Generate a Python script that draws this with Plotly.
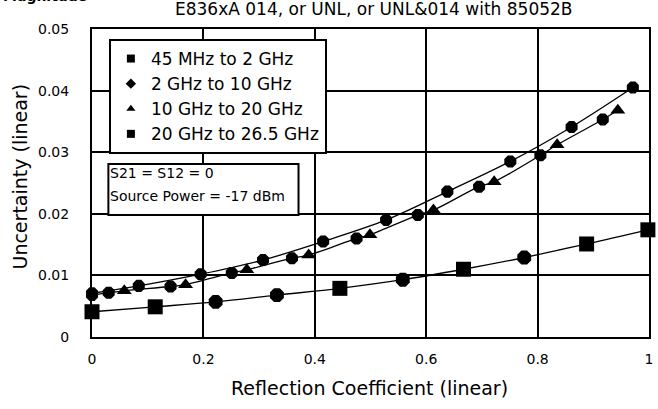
import plotly.graph_objects as go

# ---- data ----
s1_name = "45 MHz to 2 GHz"
s1_x = [0.0, 0.1135, 0.222, 0.332, 0.445, 0.558, 0.667, 0.776, 0.888, 0.998]
s1_y = [0.0041, 0.0049, 0.0057, 0.0068, 0.0079, 0.0093, 0.0110, 0.0129, 0.0151, 0.0174]

s2_name = "2 GHz to 10 GHz"
s2_x = [0.0, 0.084, 0.195, 0.307, 0.415, 0.528, 0.638, 0.751, 0.861, 0.971]
s2_y = [0.0071, 0.0083, 0.0102, 0.0125, 0.0155, 0.0190, 0.0236, 0.0285, 0.0341, 0.0405]

s3_name = "10 GHz to 20 GHz"
s3_x = [0.058, 0.168, 0.278, 0.389, 0.499, 0.613, 0.722, 0.835, 0.944]
s3_y = [0.0075, 0.0085, 0.0109, 0.0133, 0.0166, 0.0206, 0.0252, 0.0312, 0.0368]

s4_name = "20 GHz to 26.5 GHz"
s4_x = [0.0, 0.03, 0.141, 0.251, 0.359, 0.475, 0.585, 0.695, 0.805, 0.917]
s4_y = [0.0068, 0.0072, 0.0082, 0.0104, 0.0128, 0.0160, 0.0198, 0.0244, 0.0295, 0.0353]

x_ticks = [0, 0.2, 0.4, 0.6, 0.8, 1]
x_tick_labels = ["0", "0.2", "0.4", "0.6", "0.8", "1"]
y_ticks = [0, 0.01, 0.02, 0.03, 0.04, 0.05]
y_tick_labels = ["0", "0.01", "0.02", "0.03", "0.04", "0.05"]

title_text = "E836xA 014, or UNL, or UNL&014 with 85052B"
corner_text = "Magnitude"
x_title = "Reflection Coefficient (linear)"
y_title = "Uncertainty (linear)"
note_lines = ["S21 = S12 = 0", "Source Power = -17 dBm"]

# ---- styles ----
FONT = "DejaVu Sans"
BLACK = "#000000"
s1_symbols = ["square", "square", "octagon", "octagon", "square",
              "octagon", "square", "octagon", "square", "square"]

fig = go.Figure()

# lines
fig.add_trace(go.Scatter(x=s1_x, y=s1_y, mode="lines", showlegend=False,
                         line=dict(color=BLACK, width=1.3, shape="spline"),
                         hoverinfo="skip", cliponaxis=False))
fig.add_trace(go.Scatter(x=s2_x, y=s2_y, mode="lines", showlegend=False,
                         line=dict(color=BLACK, width=1.3, shape="spline"),
                         hoverinfo="skip", cliponaxis=False))
pairs = sorted(zip(s3_x + s4_x, s3_y + s4_y))
fig.add_trace(go.Scatter(x=[p[0] for p in pairs], y=[p[1] for p in pairs],
                         mode="lines", showlegend=False,
                         line=dict(color=BLACK, width=1.3, shape="spline"),
                         hoverinfo="skip", cliponaxis=False))

# markers
fig.add_trace(go.Scatter(x=s1_x, y=s1_y, mode="markers", showlegend=False,
                         marker=dict(symbol=s1_symbols, size=15, color=BLACK),
                         cliponaxis=False))
fig.add_trace(go.Scatter(x=s4_x, y=s4_y, mode="markers", showlegend=False,
                         marker=dict(symbol="octagon", size=13, color=BLACK),
                         cliponaxis=False))
fig.add_trace(go.Scatter(x=s3_x, y=s3_y, mode="markers", showlegend=False,
                         marker=dict(symbol="triangle-up", size=13, color=BLACK),
                         cliponaxis=False))
fig.add_trace(go.Scatter(x=s2_x, y=s2_y, mode="markers", showlegend=False,
                         marker=dict(symbol="octagon", size=13, color=BLACK),
                         cliponaxis=False))

# legend entries
for i, (nm, sym) in enumerate([(s1_name, "square"), (s2_name, "diamond"),
                               (s3_name, "triangle-up"), (s4_name, "square")]):
    fig.add_trace(go.Scatter(x=[None], y=[None], mode="markers", name=nm,
                             legendgroup="g%d" % i,
                             marker=dict(symbol=sym, size=8, color=BLACK)))

# pixel helpers for the plot area (figure coordinates)
L, R = 92.0, 653.0
T, B = 29.0, 337.0
def px(v):
    return (v - L) / (R - L)
def py(v):
    return (B - v) / (B - T)

# note box
fig.add_shape(type="rect", xref="paper", yref="paper",
              x0=px(108.5), x1=px(300), y0=py(215), y1=py(164),
              line=dict(color=BLACK, width=2), fillcolor="white", layer="above")
fig.add_annotation(xref="paper", yref="paper", x=px(108), y=py(172.5),
                   xanchor="left", yanchor="middle", showarrow=False,
                   text=note_lines[0], font=dict(family=FONT, size=14, color=BLACK))
fig.add_annotation(xref="paper", yref="paper", x=px(108), y=py(196.5),
                   xanchor="left", yanchor="middle", showarrow=False,
                   text=note_lines[1], font=dict(family=FONT, size=14, color=BLACK))

# titles
fig.add_annotation(xref="paper", yref="paper", x=px(376), y=py(9),
                   xanchor="center", yanchor="middle", showarrow=False,
                   text=title_text, font=dict(family=FONT, size=17, color=BLACK))
fig.add_annotation(xref="paper", yref="paper", x=px(0), y=py(-4),
                   xanchor="left", yanchor="middle", showarrow=False,
                   text="<b>" + corner_text + "</b>",
                   font=dict(family=FONT, size=14, color=BLACK))
fig.add_annotation(xref="paper", yref="paper", x=px(371), y=py(388),
                   xanchor="center", yanchor="middle", showarrow=False,
                   text=x_title, font=dict(family=FONT, size=19, color=BLACK))
fig.add_annotation(xref="paper", yref="paper", x=px(19), y=py(177),
                   xanchor="center", yanchor="middle", showarrow=False, textangle=-90,
                   text=y_title, font=dict(family=FONT, size=19, color=BLACK))

axis_common = dict(showgrid=True, gridcolor=BLACK, gridwidth=2,
                   showline=True, linecolor=BLACK, linewidth=2, mirror=True,
                   zeroline=False, ticks="",
                   tickfont=dict(family=FONT, size=14, color=BLACK))

fig.update_layout(
    width=658, height=409,
    margin=dict(l=92, r=5, t=29, b=72),
    paper_bgcolor="white", plot_bgcolor="white",
    font=dict(family=FONT, color=BLACK),
    xaxis=dict(range=[0, 1], tickvals=x_ticks, ticktext=x_tick_labels,
               ticklabelstandoff=8, **axis_common),
    yaxis=dict(range=[0, 0.05], tickvals=y_ticks, ticktext=y_tick_labels,
               ticklabelstandoff=18, **axis_common),
    legend=dict(x=px(109), y=py(39), xanchor="left", yanchor="top",
                bgcolor="white", bordercolor=BLACK, borderwidth=2,
                font=dict(family=FONT, size=17, color=BLACK),
                tracegroupgap=9, traceorder="normal", itemwidth=30),
    showlegend=True,
)

fig.write_html("out.html", config={"displayModeBar": False},
               post_script="document.body.style.margin='0';document.body.style.overflow='hidden';")
